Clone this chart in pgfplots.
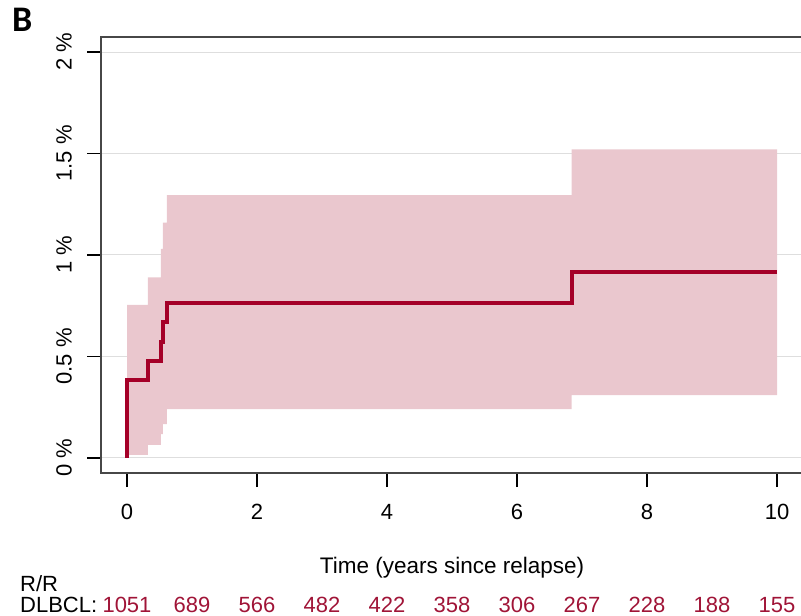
\documentclass[border=0pt]{standalone}
\usepackage{fontspec}
\setmainfont{Liberation Sans}
\newfontfamily\bfont{Carlito}
\usepackage{pgfplots}
\pgfplotsset{compat=1.18}
\usepgfplotslibrary{fillbetween}
\definecolor{kmred}{RGB}{165,0,40}
\definecolor{kmband}{RGB}{234,199,206}
\definecolor{riskred}{RGB}{160,20,55}
\definecolor{gridgray}{RGB}{222,222,222}
\begin{document}
\begin{tikzpicture}[x=1pt,y=1pt]
\begin{axis}[
  at={(0,0)}, anchor=south west,
  scale only axis, width=702pt, height=436pt,
  xmin=-0.4, xmax=10.4, ymin=-0.074, ymax=2.074,
  axis line style={black!72, line width=1.1pt},
  tick align=outside, xtick pos=left, ytick pos=left,
  major tick length=14pt,
  tick style={black, line width=1.1pt},
  xtick={0,2,4,6,8,10},
  ytick={0,0.5,1,1.5,2},
  yticklabels={0 \%,0.5 \%,1 \%,1.5 \%,2 \%},
  ymajorgrids, grid style={gridgray, line width=1pt},
  /pgf/number format/assume math mode=true,
  ticklabel style={font=\fontsize{22}{26}\selectfont},
  xticklabel style={anchor=north, inner sep=0pt, yshift=-17pt},
  yticklabel style={xshift=-15pt, rotate=90, anchor=south, inner sep=0pt},
  clip=false,
]
\addplot[name path=up, draw=none, const plot] coordinates {
(0,0.754) (0.32,0.89) (0.52,1.03) (0.55,1.16) (0.615,1.295) (6.84,1.52) (10,1.52)};
\addplot[name path=lo, draw=none, const plot] coordinates {
(0,0.015) (0.32,0.064) (0.52,0.118) (0.55,0.167) (0.615,0.241) (6.84,0.31) (10,0.31)};
\addplot[kmband, draw=none] fill between[of=up and lo];
\addplot[const plot, kmred, line width=4pt, line join=miter] coordinates {
(0,0) (0,0.384) (0.32,0.478) (0.52,0.571) (0.55,0.67) (0.615,0.764) (6.84,0.918) (10,0.918)};
\end{axis}
\node[font=\bfont\bfseries\fontsize{36}{42}\selectfont, anchor=base west, inner sep=0pt] at (-89,441) {B};
\node[font=\fontsize{22.5}{26}\selectfont, anchor=base, inner sep=0pt] at (351,-100) {Time (years since relapse)};
\node[font=\fontsize{22}{26}\selectfont, anchor=base west, inner sep=0pt] at (-81,-118) {R/R};
\node[font=\fontsize{22}{26}\selectfont, anchor=base west, inner sep=0pt] at (-81,-139) {DLBCL:};
\foreach \v [count=\i from 0] in {1051,689,566,482,422,358,306,267,228,188,155} {
  \node[font=\fontsize{22}{26}\selectfont, text=riskred, anchor=base, inner sep=0pt] at (26+65*\i,-139) {\v};
}
\pgfresetboundingbox
\path[use as bounding box] (-101,-143) rectangle (700,473);
\end{tikzpicture}
\end{document}
